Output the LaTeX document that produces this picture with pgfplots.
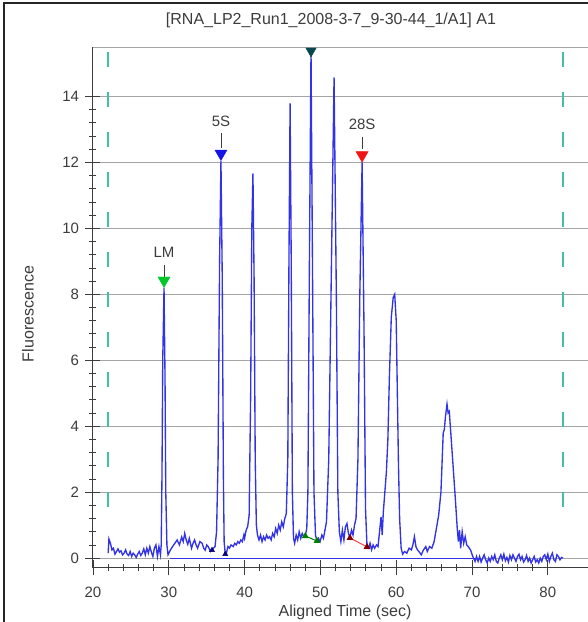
\documentclass[border=0pt]{standalone}
\usepackage{fontspec}
\setmainfont{Liberation Sans}
\usepackage{pgfplots}
\pgfplotsset{compat=1.18}
\definecolor{tracecol}{RGB}{50,50,230}
\definecolor{gridcol}{RGB}{165,165,165}
\definecolor{dashcol}{RGB}{70,190,165}
\definecolor{topcol}{RGB}{10,70,80}
\definecolor{lmcol}{RGB}{0,200,40}
\definecolor{fivecol}{RGB}{20,20,230}
\definecolor{redcol}{RGB}{240,20,20}
\definecolor{txtcol}{RGB}{60,60,60}
\begin{document}
\begin{tikzpicture}
\useasboundingbox (0,0) rectangle (588pt,622pt);
\begin{axis}[
  at={(93pt,54pt)}, anchor=south west,
  scale only axis, width=495pt, height=521pt,
  xmin=20, xmax=85.3, ymin=-0.3, ymax=15.5,
  xtick={20,30,...,80}, ytick={0,2,...,14},
  minor x tick num=4, minor y tick num=4,
  tick align=center,
  major tick length=15pt, minor tick length=7pt,
  every tick/.style={txtcol, line width=0.8pt},
  axis lines*=left, axis line style={txtcol, line width=1pt, -},
  ymajorgrids, grid style={gridcol, line width=0.9pt},
  /pgf/number format/assume math mode=true,
  tick label style={font=\fontsize{15}{17}\selectfont, text=txtcol},
  xticklabel style={yshift=-8pt},
  yticklabel style={xshift=-3pt},
  clip=false,
]
% top border of plot area
\addplot[gridcol, line width=0.9pt] coordinates {(20,15.5) (85.3,15.5)};
% dashed window lines
\addplot[dashcol, line width=1.6pt, dash pattern=on 15pt off 25pt] coordinates {(22,15.35) (22,1.0)};
\addplot[dashcol, line width=1.6pt, dash pattern=on 15pt off 25pt] coordinates {(82,15.35) (82,1.0)};
% baseline
\addplot[tracecol, line width=1.1pt] coordinates {(30.2,0) (70.5,0)};
% electropherogram trace
\addplot[tracecol, line width=1.35pt] coordinates {
(22.0,0.15)(22.1,0.58)(22.3,0.45)(22.5,0.25)(22.7,0.30)(22.9,0.12)(23.1,0.20)(23.3,0.28)(23.5,0.18)(23.7,0.22)
(23.9,0.10)(24.1,0.15)(24.3,0.25)(24.5,0.12)(24.7,0.08)(24.9,0.20)(25.1,0.05)(25.3,0.15)(25.5,0.10)(25.7,0.02)
(25.9,0.12)(26.1,0.20)(26.3,0.08)(26.5,0.15)(26.7,0.28)(26.9,0.10)(27.1,0.30)(27.3,0.15)(27.5,0.35)(27.7,0.18)
(27.9,0.05)(28.1,0.30)(28.3,0.40)(28.5,0.05)(28.7,0.35)(28.9,0.10)(29.0,0.40)(29.1,2.5)(29.2,6.0)(29.37,8.2)
(29.5,5.5)(29.6,2.0)(29.75,0.4)(29.9,0.1)(30.2,0.24)(30.5,0.35)(30.8,0.45)(31.1,0.55)(31.4,0.40)(31.7,0.64)
(31.9,0.50)(32.1,0.75)(32.3,0.55)(32.5,0.42)(32.7,0.60)(33.0,0.30)(33.2,0.45)(33.4,0.55)(33.6,0.40)(33.8,0.30)
(34.1,0.50)(34.4,0.45)(34.6,0.30)(34.8,0.24)(35.0,0.40)(35.2,0.35)(35.5,0.20)(35.7,0.24)(35.9,0.30)(36.1,0.35)
(36.3,0.8)(36.5,3.0)(36.7,9.0)(36.88,12.05)(37.05,8.5)(37.2,2.5)(37.3,0.5)(37.45,0.12)(37.6,0.15)(37.8,0.35)
(38.0,0.30)(38.2,0.40)(38.5,0.35)(38.7,0.45)(38.9,0.40)(39.1,0.50)(39.3,0.45)(39.5,0.55)(39.7,0.50)(39.9,0.70)
(40.0,0.60)(40.2,0.85)(40.4,0.95)(40.6,1.3)(40.8,5.0)(40.95,10.0)(41.1,11.67)(41.25,8.5)(41.4,3.0)(41.55,1.0)
(41.7,0.7)(41.9,0.55)(42.1,0.70)(42.3,0.50)(42.5,0.65)(42.7,0.55)(42.9,0.70)(43.1,0.60)(43.3,0.65)(43.5,0.55)
(43.7,0.75)(43.9,0.65)(44.1,0.90)(44.3,0.75)(44.5,1.00)(44.7,0.85)(44.9,1.10)(45.1,0.95)(45.3,1.20)(45.5,1.35)
(45.7,3.0)(45.85,9.0)(46.0,13.79)(46.15,9.0)(46.3,2.0)(46.45,0.6)(46.6,0.45)(46.8,0.70)(47.0,0.55)(47.2,0.80)
(47.4,0.60)(47.6,0.75)(47.8,0.65)(48.0,0.67)(48.2,0.9)(48.35,2.0)(48.55,9.0)(48.76,15.4)(48.95,9.0)(49.15,2.0)
(49.35,0.7)(49.55,0.52)(49.75,0.60)(49.95,0.50)(50.2,0.70)(50.4,0.60)(50.6,0.85)(50.8,1.1)(51.1,3.0)(51.4,8.0)
(51.8,14.58)(52.1,8.0)(52.3,2.0)(52.5,0.8)(52.7,0.50)(52.9,0.85)(53.1,0.55)(53.3,0.95)(53.5,1.05)(53.7,0.75)
(53.9,0.61)(54.1,0.85)(54.3,0.70)(54.5,1.00)(54.7,1.2)(54.95,3.0)(55.2,8.0)(55.5,12.0)(55.75,7.0)(55.95,1.5)
(56.15,0.34)(56.35,0.30)(56.55,0.45)(56.75,0.25)(56.95,0.40)(57.15,0.30)(57.4,0.40)(57.6,0.35)(57.8,0.80)(58.0,1.25)
(58.15,0.70)(58.3,1.40)(58.5,2.0)(58.7,2.6)(58.9,3.6)(59.1,5.5)(59.35,7.3)(59.6,7.9)(59.8,8.0)(60.0,7.2)
(60.15,5.0)(60.3,2.8)(60.45,1.2)(60.65,0.3)(60.85,0.12)(61.1,0.20)(61.4,0.15)(61.7,0.30)(62.0,0.25)(62.2,0.40)
(62.4,0.65)(62.6,0.35)(62.8,0.25)(63.0,0.20)(63.3,0.10)(63.6,0.25)(63.9,0.35)(64.1,0.20)(64.4,0.35)(64.7,0.30)
(65.0,0.50)(65.3,0.90)(65.6,1.3)(65.9,2.0)(66.1,3.2)(66.2,3.8)(66.35,3.9)(66.5,4.3)(66.7,4.67)(66.85,4.40)
(67.0,4.45)(67.2,3.8)(67.5,2.8)(67.8,1.8)(68.05,0.9)(68.2,0.50)(68.35,0.85)(68.5,0.30)(68.7,0.80)(68.9,0.45)
(69.1,0.65)(69.3,0.40)(69.5,0.35)(69.8,0.25)(70.1,0.05)(70.4,-0.10)(70.6,0.05)(70.8,-0.10)(71.0,0.05)(71.2,-0.12)
(71.4,0.00)(71.6,0.10)(71.8,-0.05)(72.0,-0.15)(72.2,0.00)(72.4,-0.10)(72.6,0.05)(72.8,-0.05)(73.0,0.10)(73.2,-0.10)
(73.4,-0.15)(73.6,0.00)(73.8,0.10)(74.0,-0.05)(74.2,0.12)(74.4,-0.08)(74.6,0.02)(74.8,-0.12)(75.0,0.08)(75.2,-0.05)
(75.4,0.10)(75.6,0.00)(75.8,-0.10)(76.0,0.05)(76.2,0.12)(76.4,-0.05)(76.6,0.05)(76.8,-0.12)(77.0,-0.05)(77.2,0.08)
(77.4,-0.10)(77.6,0.00)(77.8,-0.15)(78.0,-0.05)(78.2,0.05)(78.4,-0.12)(78.6,-0.05)(78.8,-0.15)(79.0,0.00)(79.2,-0.10)
(79.4,0.05)(79.6,0.10)(79.8,-0.05)(80.0,0.12)(80.2,-0.10)(80.4,0.05)(80.6,0.15)(80.8,-0.05)(81.0,-0.10)(81.2,0.10)
(81.4,0.05)(81.6,-0.05)(81.8,0.02)(82.0,0.00)
};
% peak integration segments
\addplot[green!50!black, line width=1pt, mark=triangle*, mark size=3pt] coordinates {(48.0,0.67)(49.55,0.52)};
\addplot[redcol!80!white, line width=1pt, mark=triangle*, mark size=3pt, mark options={fill=red!50!black, draw=red!50!black}] coordinates {(53.9,0.61)(56.15,0.34)};
\addplot[only marks, mark=triangle*, mark size=3pt, color=blue!50!black] coordinates {(35.7,0.24)(37.45,0.12)};
% peak labels (down triangles)
\addplot[only marks, mark=triangle*, mark size=7pt, mark options={rotate=180, fill=lmcol, draw=lmcol}] coordinates {(29.37,8.42)};
\addplot[only marks, mark=triangle*, mark size=7pt, mark options={rotate=180, fill=fivecol, draw=fivecol}] coordinates {(36.88,12.27)};
\addplot[only marks, mark=triangle*, mark size=7pt, mark options={rotate=180, fill=redcol, draw=redcol}] coordinates {(55.5,12.22)};
\addplot[only marks, mark=triangle*, mark size=6pt, mark options={rotate=180, fill=topcol, draw=topcol}] coordinates {(48.76,15.38)};
\draw[txtcol, line width=0.8pt] (axis cs:29.37,8.9) -- (axis cs:29.37,8.5);
\draw[txtcol, line width=0.8pt] (axis cs:36.88,12.88) -- (axis cs:36.88,12.45);
\draw[txtcol, line width=0.8pt] (axis cs:55.5,12.78) -- (axis cs:55.5,12.4);
\node[text=txtcol, font=\fontsize{15}{17}\selectfont] at (axis cs:29.37,9.28) {LM};
\node[text=txtcol, font=\fontsize{15}{17}\selectfont] at (axis cs:36.88,13.24) {5S};
\node[text=txtcol, font=\fontsize{15}{17}\selectfont] at (axis cs:55.5,13.14) {28S};
\end{axis}
\node[text=txtcol, font=\fontsize{16}{19}\selectfont] at (331pt,602pt) {[RNA\_LP2\_Run1\_2008-3-7\_9-30-44\_1/A1] A1};
\node[text=txtcol, inner sep=1pt, font=\fontsize{16}{19}\selectfont] at (345pt,10pt) {Aligned Time (sec)};
\node[text=txtcol, rotate=90, font=\fontsize{16}{19}\selectfont] at (28pt,308pt) {Fluorescence};
\draw[black!85, line width=2.5pt] (4pt,0pt) -- (4pt,619pt) -- (588pt,619pt);
\end{tikzpicture}
\end{document}
